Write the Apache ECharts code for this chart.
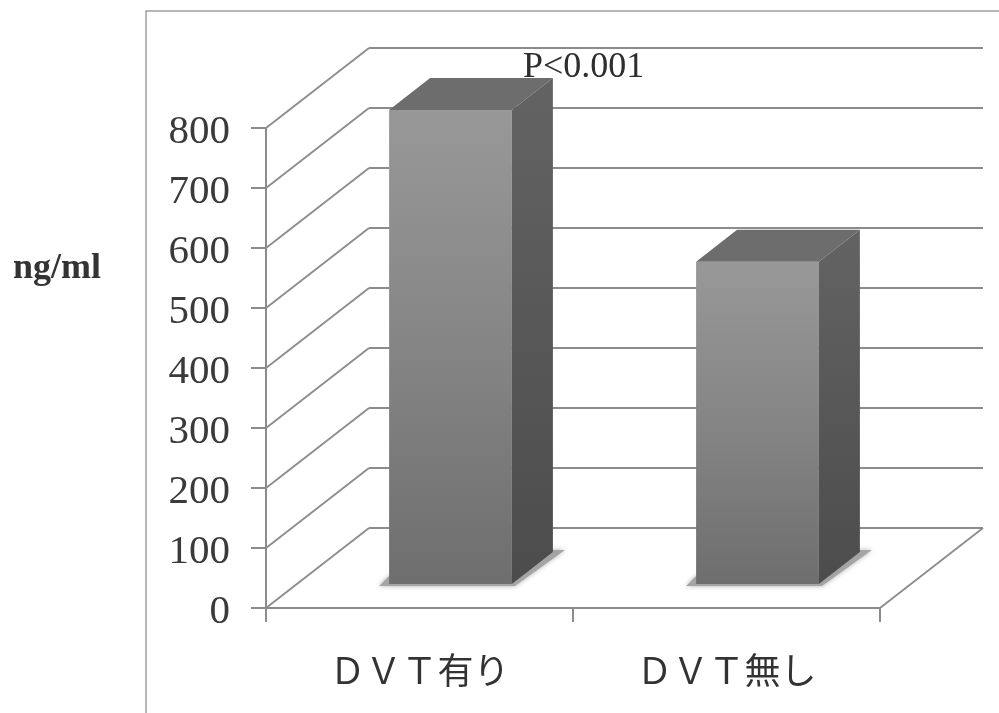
<!DOCTYPE html>
<html>
<head>
<meta charset="utf-8">
<style>html,body{margin:0;padding:0;background:#fff}#chart{width:999px;height:713px}</style>
<script src="https://cdn.jsdelivr.net/npm/echarts@6/dist/echarts.min.js"></script>
</head>
<body>
<div id="chart"></div>
<script>
const categories = ['ＤＶＴ有り', 'ＤＶＴ無し'];
const dDimerValues = [790, 537];
const yTicks = [0, 100, 200, 300, 400, 500, 600, 700, 800];

// Oblique projection used for the pseudo-3D box
const WALL_DX = 103, WALL_DY = -80;   // front plane to back wall
const BAR_SHIFT_DX = 31, BAR_SHIFT_DY = -24; // bar front face inside the floor
const BAR_DX = 41, BAR_DY = -32;      // bar depth
const BAR_BAND = 0.4;                 // bar width as a share of the category band
const LINE = '#8c8c8c';
const serif = '"Liberation Serif", "DejaVu Serif", serif';

function renderWalls(params, api) {
  const v = api.value(0);
  const cs = params.coordSys;
  const y = api.coord([0, v])[1];
  const x0 = cs.x, x1 = cs.x + cs.width;
  const style = { stroke: LINE, lineWidth: 1.8, fill: null };
  const children = [
    { type: 'line', shape: { x1: x0, y1: y, x2: x0 + WALL_DX, y2: y + WALL_DY }, style },
    { type: 'line', shape: { x1: x0 + WALL_DX, y1: y + WALL_DY, x2: x1 + WALL_DX, y2: y + WALL_DY }, style }
  ];
  if (v === 0) {
    children.push({ type: 'line', shape: { x1: x1, y1: y, x2: x1 + WALL_DX, y2: y + WALL_DY }, style });
  }
  return { type: 'group', silent: true, children };
}

function renderBars(params, api) {
  const c = api.coord([api.value(0), api.value(1)]);
  const base = api.coord([api.value(0), 0]);
  const w = api.size([1, 0])[0] * BAR_BAND;
  const l = c[0] - w / 2 + BAR_SHIFT_DX, r = l + w;
  const top = c[1] + BAR_SHIFT_DY, bottom = base[1] + BAR_SHIFT_DY;
  const poly = (points, style) => ({ type: 'polygon', shape: { points }, style });
  return {
    type: 'group',
    silent: true,
    children: [
      // soft floor shadow
      poly([[l - 10, bottom + 2], [r + 3, bottom + 2], [r + BAR_DX + 12, bottom + BAR_DY - 2], [r + BAR_DX, bottom + BAR_DY - 2], [r, bottom - 8], [l, bottom - 8]],
        { fill: '#a4a4a4', shadowBlur: 5, shadowColor: '#b0b0b0' }),
      // front face
      { type: 'rect', shape: { x: l, y: top, width: w, height: bottom - top },
        style: { fill: new echarts.graphic.LinearGradient(0, 0, 0, 1, [
          { offset: 0, color: '#989898' }, { offset: 0.5, color: '#858585' }, { offset: 1, color: '#6e6e6e' }
        ]) } },
      // top face
      poly([[l, top], [r, top], [r + BAR_DX, top + BAR_DY], [l + BAR_DX, top + BAR_DY]], { fill: '#6d6d6d' }),
      // side face
      poly([[r, top], [r + BAR_DX, top + BAR_DY], [r + BAR_DX, bottom + BAR_DY], [r, bottom]],
        { fill: new echarts.graphic.LinearGradient(0, 0, 0, 1, [
          { offset: 0, color: '#636363' }, { offset: 1, color: '#4c4c4c' }
        ]) })
    ]
  };
}

const chart = echarts.init(document.getElementById('chart'), null, { renderer: 'canvas' });
chart.setOption({
  animation: false,
  backgroundColor: '#ffffff',
  grid: { left: 266, right: 119, top: 128, bottom: 105, containLabel: false },
  xAxis: {
    type: 'category',
    data: categories,
    boundaryGap: true,
    axisLine: { show: true, lineStyle: { color: LINE, width: 2 } },
    axisTick: { show: true, alignWithLabel: false, length: 14, lineStyle: { color: LINE, width: 2 } },
    axisLabel: { margin: 44, fontSize: 36, color: '#333333', fontFamily: '"Noto Sans CJK JP", sans-serif' },
    splitLine: { show: false }
  },
  yAxis: {
    type: 'value',
    min: 0,
    max: 800,
    interval: 100,
    axisLine: { show: true, lineStyle: { color: LINE, width: 2 } },
    axisTick: { show: true, length: 15, lineStyle: { color: LINE, width: 2 } },
    axisLabel: {
      margin: 36,
      formatter: v => `{n|${v}}`,
      rich: { n: { fontSize: 41, color: '#3a3a3a', fontFamily: serif, padding: [8, 0, 0, 0] } }
    },
    splitLine: { show: false }
  },
  series: [
    { type: 'custom', name: 'walls', data: yTicks.map(v => [v]), encode: { y: 0 }, renderItem: renderWalls, z: 1, clip: false },
    { type: 'custom', name: 'D-dimer', data: categories.map((c, i) => [i, dDimerValues[i]]), encode: { x: 0, y: 1 }, renderItem: renderBars, z: 3, clip: false }
  ],
  graphic: [
    { type: 'rect', z: 0, silent: true, shape: { x: 146, y: 11, width: 1000, height: 900 }, style: { fill: null, stroke: '#a0a0a0', lineWidth: 1.5 } },
    { type: 'text', z: 10, silent: true, left: 13, top: 251, style: { text: 'ng/ml', font: 'bold 36px ' + serif, fill: '#333333' } },
    { type: 'text', z: 10, silent: true, left: 523, top: 50, style: { text: 'P<0.001', font: '36px ' + serif, fill: '#2e2e2e' } }
  ]
});
</script>
</body>
</html>
